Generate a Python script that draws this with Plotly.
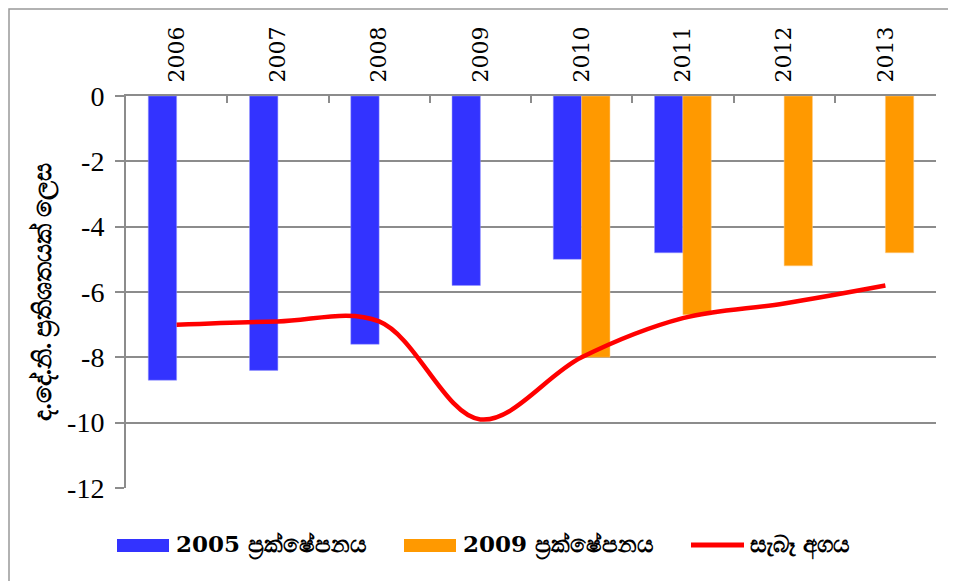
import plotly.graph_objects as go

years = ["2006", "2007", "2008", "2009", "2010", "2011", "2012", "2013"]
proj_2005 = [-8.7, -8.4, -7.6, -5.8, -5.0, -4.8, None, None]
proj_2009 = [None, None, None, None, -8.0, -6.7, -5.2, -4.8]
actual = [-7.0, -6.9, -6.9, -9.9, -8.0, -6.8, -6.35, -5.8]

name_2005 = "2005 ප්‍රක්ෂේපනය"
name_2009 = "2009 ප්‍රක්ෂේපනය"
name_actual = "සැබෑ අගය"
y_title = "ද.දේ.නි. ප්‍රතිශතයක් ලෙස"
y_ticks = [0, -2, -4, -6, -8, -10, -12]

c_2005, c_2009, c_actual = "#3333FF", "#FF9900", "#FF0000"

fig = go.Figure()
fig.add_trace(go.Bar(x=years, y=proj_2005, name=name_2005, showlegend=False,
                     marker=dict(color=c_2005, line=dict(color="#9999FF", width=0.5))))
fig.add_trace(go.Bar(x=years, y=proj_2009, name=name_2009, showlegend=False,
                     marker=dict(color=c_2009, line=dict(color="#FFCC88", width=0.5))))
fig.add_trace(go.Scatter(x=years, y=actual, name=name_actual, mode="lines", showlegend=False,
                         line=dict(color=c_actual, width=4.5, shape="spline", smoothing=1)))

# page offset of 8px (body margin) is compensated in the margins
OFF = 8
W, H = 956, 581
ml, mr, mt, mb = 126, 20, 96, 93
pw, ph = W - ml - mr, H - mt - mb

def px(x):
    return (x - ml) / pw

def py(y):
    return (H - mb - y) / ph

shapes = [dict(type="rect", xref="paper", yref="paper",
               x0=px(OFF + 1), x1=px(990), y0=py(OFF + 1), y1=py(620),
               line=dict(color="#999999", width=1.5), layer="above")]

# legend drawn as swatches + text
leg_font = dict(family="DejaVu Serif", size=23, color="black", weight="bold")
leg_y = 545
items = [(name_2005, c_2005, "rect", 117, 169, 174),
         (name_2009, c_2009, "rect", 404, 456, 461),
         (name_actual, c_actual, "line", 691, 744, 748)]
annotations = []
for name, col, kind, x0, x1, tx in items:
    if kind == "rect":
        shapes.append(dict(type="rect", xref="paper", yref="paper",
                           x0=px(x0), x1=px(x1), y0=py(leg_y + 7), y1=py(leg_y - 6),
                           fillcolor=col, line=dict(width=0)))
    else:
        shapes.append(dict(type="line", xref="paper", yref="paper",
                           x0=px(x0), x1=px(x1), y0=py(leg_y), y1=py(leg_y),
                           line=dict(color=col, width=5)))
    annotations.append(dict(text=name, xref="paper", yref="paper", x=px(tx), y=py(leg_y),
                            xanchor="left", yanchor="middle", showarrow=False, font=leg_font))

fig.update_layout(
    width=W - OFF, height=H - OFF,
    margin=dict(l=ml - OFF, r=mr, t=mt - OFF, b=mb, autoexpand=False),
    paper_bgcolor="white", plot_bgcolor="white",
    barmode="group", bargap=0.44, bargroupgap=0,
    showlegend=False,
    shapes=shapes, annotations=annotations,
    font=dict(family="Liberation Serif", color="black"),
)
fig.update_xaxes(side="top", type="category", tickangle=-90,
                 tickfont=dict(family="DejaVu Serif", size=22, color="black"),
                 showline=True, linecolor="#8c8c8c", linewidth=2,
                 ticks="inside", tickson="boundaries", ticklen=7, tickcolor="#8c8c8c", tickwidth=1.5,
                 showgrid=False, ticklabelstandoff=7, automargin=False)
fig.update_yaxes(range=[-12, 0], tickvals=y_ticks, ticktext=[str(v) for v in y_ticks],
                 tickfont=dict(family="Liberation Serif", size=28, color="black"),
                 showline=True, linecolor="#8c8c8c", linewidth=2,
                 ticks="outside", ticklen=9, tickcolor="#8c8c8c", tickwidth=1.5,
                 ticklabelstandoff=5, automargin=False,
                 showgrid=True, gridcolor="#8c8c8c", gridwidth=1.5, zeroline=False,
                 title=dict(text=y_title, font=dict(size=25, color="black", weight="bold"), standoff=8))

fig.write_html("out.html")
